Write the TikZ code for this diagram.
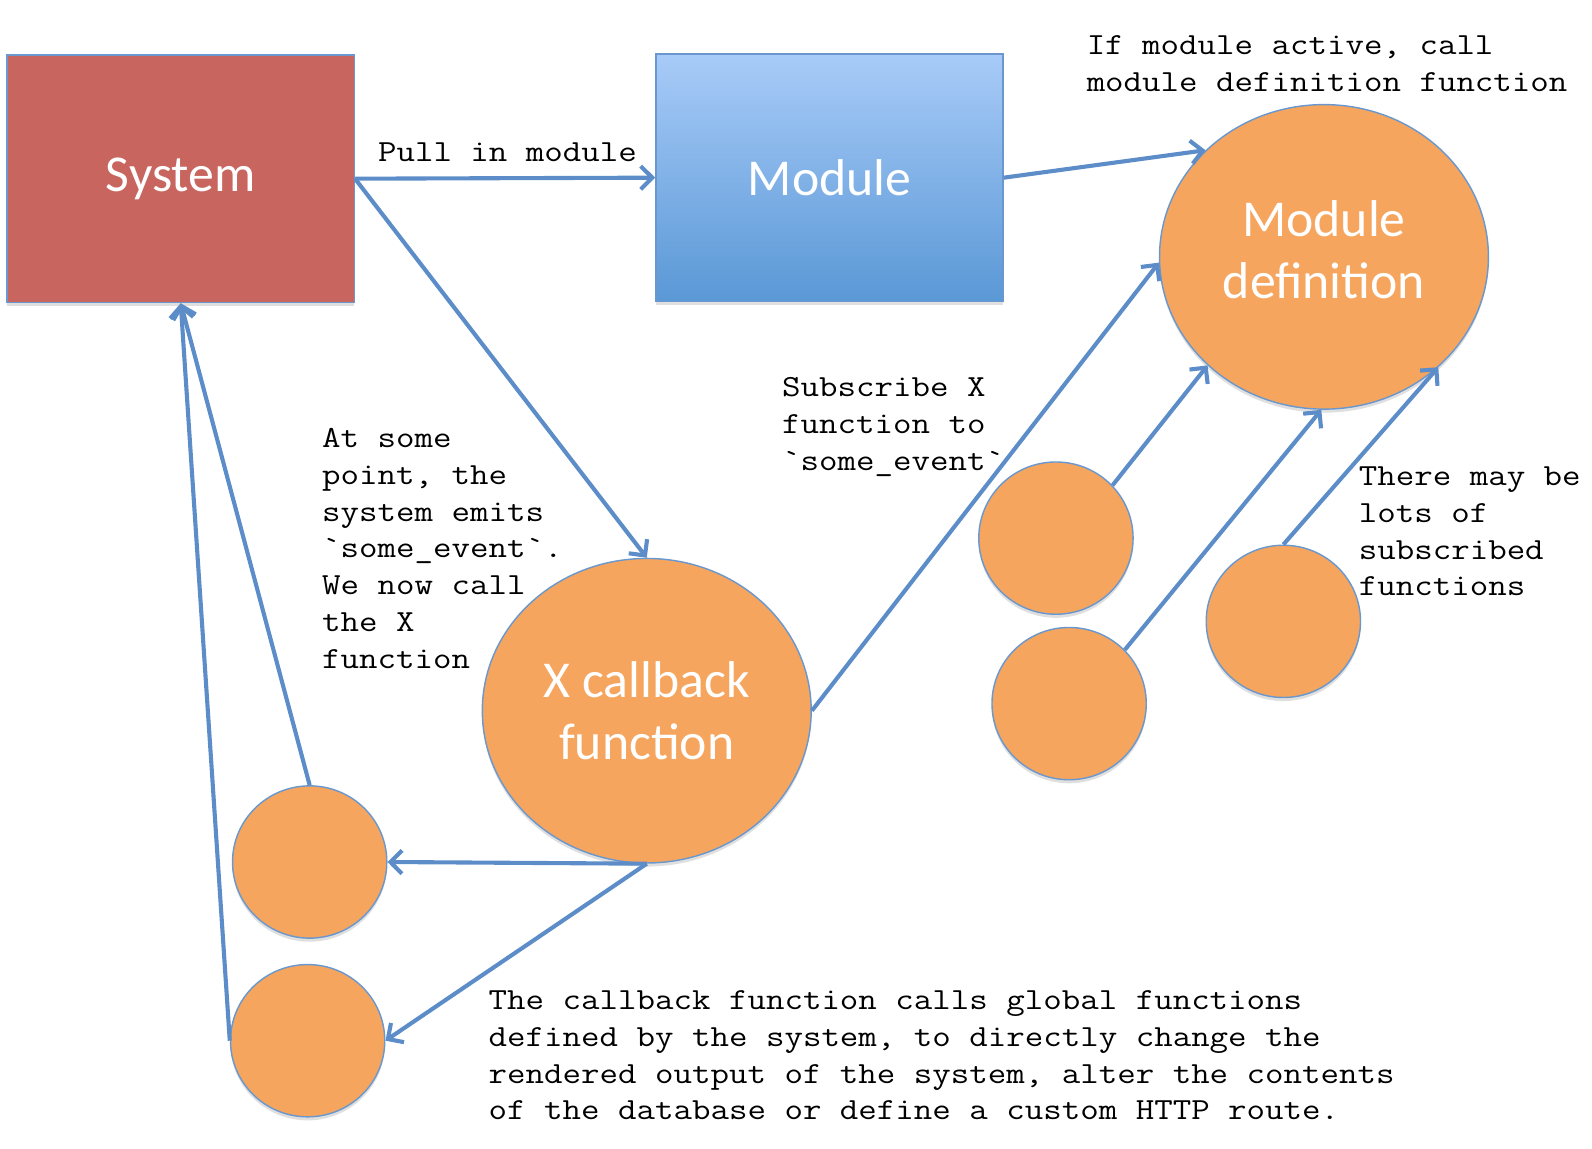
\documentclass[tikz,border=0pt]{standalone}
\usepackage{fontspec}
\newfontfamily\notefont{Latin Modern Mono}[FakeStretch=1.17]
\newfontfamily\labelfont{Carlito}
\usetikzlibrary{arrows.meta,shapes.geometric,shadows}

\definecolor{sysred}{HTML}{C8655F}
\definecolor{modtop}{HTML}{A8CBF8}
\definecolor{modbot}{HTML}{5A98D6}
\definecolor{blobfill}{HTML}{F6A55E}
\definecolor{edge}{HTML}{6A98CE}
\definecolor{flowblue}{HTML}{5C8DC8}

\tikzset{
  soft/.style={drop shadow={opacity=0.25, shadow xshift=0pt, shadow yshift=-2pt}},
  box/.style={draw=edge, line width=0.8pt, soft, minimum width=6.84cm, minimum height=4.88cm,
    inner sep=0pt, text=white, font=\labelfont\fontsize{29}{35}\selectfont},
  blob/.style={ellipse, draw=edge, line width=0.8pt, fill=blobfill, soft, inner sep=0pt,
    text=white, align=center, font=\labelfont\fontsize{29}{35}\selectfont},
  big/.style={blob, minimum width=6.48cm, minimum height=6cm},
  dot/.style={blob, minimum width=3.04cm, minimum height=3cm},
  flow/.style={draw=flowblue, line width=2.3pt, -{Straight Barb[length=6.5pt,width=13pt]}},
  note/.style={anchor=base west, inner sep=0pt, align=left, font=\notefont\fontsize{17.2}{20.6}\selectfont}
}

\begin{document}
\begin{tikzpicture}[x=0.02cm, y=-0.02cm]
\useasboundingbox (0,0) rectangle (1568,1131);

\node [box, fill=sysred] (sys) at (178,176) {System};
\node [box, top color=modtop, bottom color=modbot] (mod) at (817,175) {Module};
\node [big] (mdef) at (1304,253) {Module\\definition\\[-27pt]};
\node [big] (xcb) at (637,700) {X callback\\function};

\node [dot] (s1) at (305,849) {};
\node [dot] (s2) at (303,1025) {};
\node [dot] (r1) at (1040,530) {};
\node [dot] (r2) at (1053,693) {};
\node [dot] (r3) at (1264,612) {};

\draw [flow] (sys.east) -- (mod.west);
\draw [flow] (sys.east) -- (xcb.north);
\draw [flow] (mod.east) -- (mdef.138);
\draw [flow] (xcb.east) -- (mdef.182);
\draw [flow] (r1.43) -- (mdef.223);
\draw [flow] (r2.44) -- (mdef.269);
\draw [flow] (r3.north) -- (mdef.316);
\draw [flow] (xcb.south) -- (s1.east);
\draw [flow] (xcb.south) -- (s2.east);
\draw [flow] (s1.north) -- (sys.south);
\draw [flow] (s2.west) -- (sys.south);

\node [note] (pull) at (372,159) {Pull in module};
\node [note] (active) at (1070,90) {If module active, call\\module definition function};
\node [note] (subscribe) at (770,463) {Subscribe X\\function to\\`some\_event`};
\node [note] (emits) at (317,658) {At some\\point, the\\system emits\\`some\_event`.\\We now call\\the X\\function};
\node [note] (lots) at (1338,587) {There may be\\lots of\\subscribed\\functions};
\node [note] (calls) at (481,1103) {The callback function calls global functions\\defined by the system, to directly change the\\rendered output of the system, alter the contents\\of the database or define a custom HTTP route.};
\end{tikzpicture}
\end{document}
